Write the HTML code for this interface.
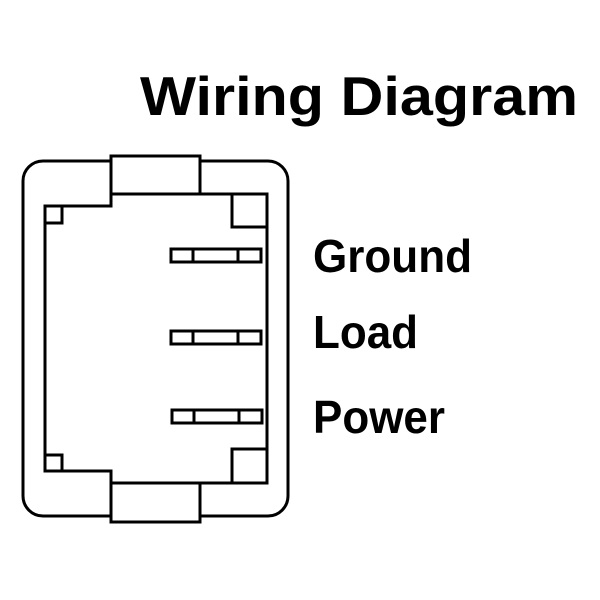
<!DOCTYPE html>
<html><head><meta charset="utf-8"><style>body{margin:0;background:#fff}svg{display:block}</style></head>
<body>
<svg width="600" height="600" viewBox="0 0 600 600" xmlns="http://www.w3.org/2000/svg">
<rect width="600" height="600" fill="#fff"/>
<g font-family="Liberation Sans, Arial, sans-serif" font-weight="bold" fill="#000">
<text x="140" y="115" font-size="55" textLength="438" lengthAdjust="spacingAndGlyphs">Wiring Diagram</text>
<text x="313" y="272" font-size="46" textLength="159" lengthAdjust="spacingAndGlyphs">Ground</text>
<text x="313" y="348" font-size="46" textLength="105" lengthAdjust="spacingAndGlyphs">Load</text>
<text x="313" y="433" font-size="46" textLength="132" lengthAdjust="spacingAndGlyphs">Power</text>
</g>
<g fill="none" stroke="#000" stroke-width="3">
<rect x="23" y="161" width="265" height="355" rx="20" fill="#fff"/>
<rect x="111" y="156" width="89" height="38" fill="#fff"/>
<rect x="111" y="483" width="89" height="39" fill="#fff"/>
<path d="M111 194 L267 194 L267 483 L111 483 L111 471 L45 471 L45 206 L111 206 Z" fill="#fff"/>
<path d="M45 223 H62 V206"/>
<path d="M45 455 H62 V471"/>
<path d="M232 194 V227 H267"/>
<path d="M232 483 V449 H267"/>
<rect x="171" y="249" width="90" height="13"/>
<path d="M193 249 V262 M238 249 V262"/>
<rect x="171" y="331" width="90" height="13"/>
<path d="M193 331 V344 M238 331 V344"/>
<rect x="172" y="410" width="90" height="13"/>
<path d="M194 410 V423 M239 410 V423"/>
</g>
</svg>
</body></html>
